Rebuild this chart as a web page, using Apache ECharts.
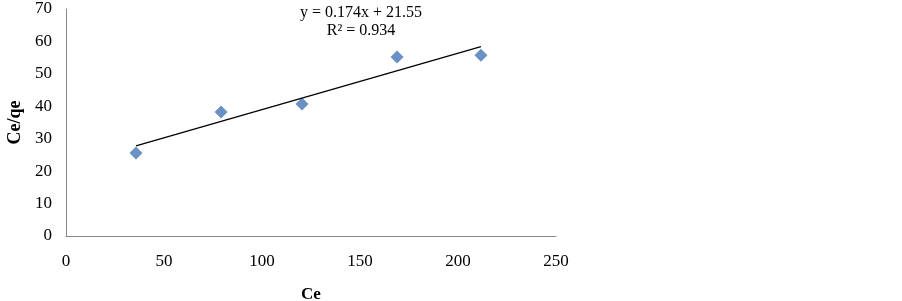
<!DOCTYPE html>
<html>
<head>
<meta charset="utf-8">
<script src="https://cdn.jsdelivr.net/npm/echarts@6/dist/echarts.min.js"></script>
<style>
html, body { margin: 0; padding: 0; background: #fff; }
#chart { width: 902px; height: 301px; }
</style>
</head>
<body>
<div id="chart"></div>
<script>
// measured points (Ce, Ce/qe)
var ceValues = [35.7, 79.1, 120.4, 168.9, 211.7];
var ratioValues = [25.6, 38.2, 40.7, 55.2, 55.7];
// linear trend from the chart
var slope = 0.174;
var intercept = 21.55;
var equationLines = ['y = 0.174x + 21.55', 'R² = 0.934'];

var points = ceValues.map(function (x, i) { return [x, ratioValues[i]]; });
var xFirst = ceValues[0], xLast = ceValues[ceValues.length - 1];
var trend = [[xFirst, slope * xFirst + intercept], [xLast, slope * xLast + intercept]];

var font = '"Liberation Serif", "Times New Roman", serif';
var myChart = echarts.init(document.getElementById('chart'));
var option = {
	animation: false,
	textStyle: { fontFamily: font },
	grid: { left: 66, right: 346, top: 9, bottom: 65, containLabel: false, outerBoundsMode: 'none' },
	xAxis: {
		type: 'value',
		min: 0, max: 250, interval: 50,
		name: 'Ce',
		nameLocation: 'middle',
		nameGap: 50,
		nameTextStyle: { fontFamily: font, fontSize: 17, fontWeight: 'bold', color: '#000' },
		axisLine: { lineStyle: { color: '#888', width: 1 } },
		axisTick: { show: false },
		splitLine: { show: false },
		axisLabel: { fontFamily: font, fontSize: 17, color: '#000', margin: 17 }
	},
	yAxis: {
		type: 'value',
		min: 0, max: 70, interval: 10,
		name: 'Ce/qe',
		nameLocation: 'middle',
		nameGap: 40,
		nameTextStyle: { fontFamily: font, fontSize: 18, fontWeight: 'bold', color: '#000' },
		axisLine: { show: true, lineStyle: { color: '#888', width: 1 } },
		axisTick: { show: false },
		splitLine: { show: false },
		axisLabel: { fontFamily: font, fontSize: 17, color: '#000', margin: 14 }
	},
	graphic: [{
		type: 'text',
		x: 361,
		y: 4,
		style: {
			text: equationLines.join('\n'),
			font: '16px ' + font,
			fill: '#000',
			align: 'center',
			lineHeight: 18
		}
	}],
	series: [
		{
			type: 'line',
			data: trend,
			symbol: 'none',
			lineStyle: { color: '#000', width: 1.3 },
			silent: true
		},
		{
			type: 'scatter',
			data: points,
			symbol: 'diamond',
			symbolSize: 13,
			itemStyle: { color: '#4576B5' }
		}
	]
};
myChart.setOption(option);
</script>
</body>
</html>
